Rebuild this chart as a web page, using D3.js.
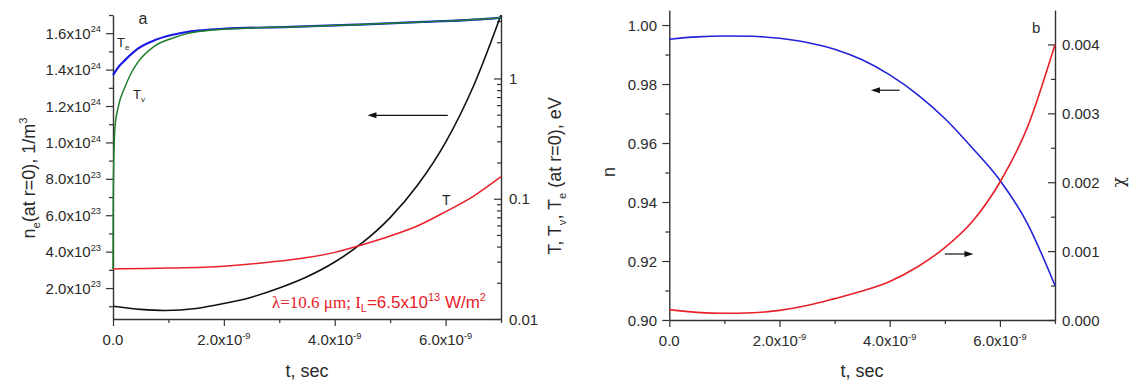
<!DOCTYPE html>
<html><head><meta charset="utf-8">
<script src="https://cdn.jsdelivr.net/npm/d3@7"></script>
<style>
body{margin:0;background:#fff}
svg{display:block;background:#fff}
text{font-family:"Liberation Sans",Arial,sans-serif;fill:#2a2a2a}
</style>
</head><body>
<svg id="c" width="1132" height="387"></svg>
<script>
// ---------- DATA (time in seconds) ----------
// Panel a: electron density n_e (1/m^3), left axis
const neTime = [0, 0.5e-9, 0.94e-9, 1.5e-9, 2.0e-9, 2.5e-9, 3.0e-9, 3.5e-9, 4.0e-9, 4.5e-9, 5.0e-9, 5.5e-9, 6.0e-9, 6.5e-9, 7.0e-9];
const neValues = [1.00e23, 0.83e23, 0.77e23, 0.88e23, 1.15e23, 1.50e23, 2.00e23, 2.62e23, 3.43e23, 4.49e23, 5.87e23, 7.67e23, 1.00e24, 1.307e24, 1.70e24];
// Panel a: gas temperature T (eV), right log axis
const gasTTime = [0, 1e-9, 2e-9, 3e-9, 3.5e-9, 4e-9, 4.5e-9, 5e-9, 5.5e-9, 6e-9, 6.5e-9, 7e-9];
const gasT = [0.0261, 0.0265, 0.0275, 0.0303, 0.0324, 0.0358, 0.0415, 0.0490, 0.0596, 0.0780, 0.1047, 0.1524];
// Panel a: electron temperature Te (eV)
const teTime = [0, 0.1e-9, 0.216e-9, 0.456e-9, 0.757e-9, 1.058e-9, 1.357e-9, 1.658e-9, 1.987e-9, 3.19e-9, 4.39e-9, 5.59e-9, 6.91e-9, 7.0e-9];
const teValues = [1.065, 1.25, 1.42, 1.778, 2.085, 2.296, 2.446, 2.527, 2.59, 2.68, 2.80, 2.95, 3.18, 3.21];
// Panel a: vibrational temperature Tv (eV)
const tvTime = [0, 0.005e-9, 0.015e-9, 0.036e-9, 0.095e-9, 0.216e-9, 0.337e-9, 0.456e-9, 0.757e-9, 1.058e-9, 1.357e-9, 1.658e-9, 1.987e-9, 2.5e-9, 3.19e-9, 4.39e-9, 5.59e-9, 6.91e-9, 7.0e-9];
const tvValues = [0.026, 0.10, 0.21, 0.395, 0.58, 0.85, 1.126, 1.38, 1.87, 2.15, 2.37, 2.49, 2.57, 2.63, 2.68, 2.80, 2.95, 3.18, 3.21];
// Panel b: refractive index n (left) and chi (right)
const bTime = [0, 0.5e-9, 1.0e-9, 1.5e-9, 2.0e-9, 2.5e-9, 3.0e-9, 3.5e-9, 4.0e-9, 4.5e-9, 5.0e-9, 5.5e-9, 6.0e-9, 6.5e-9, 7.0e-9];
const nValues = [0.9952, 0.9960, 0.9963, 0.9962, 0.9955, 0.9941, 0.9918, 0.9882, 0.9831, 0.9765, 0.9683, 0.9583, 0.9474, 0.9327, 0.9117];
const chiValues = [0.000150, 0.000110, 0.000097, 0.000105, 0.000140, 0.000210, 0.000310, 0.000420, 0.000560, 0.000770, 0.00105, 0.00143, 0.00200, 0.00280, 0.00400];

// ---------- TICKS ----------
const xTicks = [0, 2e-9, 4e-9, 6e-9];
const xTickLabels = [["0.0", ""], ["2.0x10", "-9"], ["4.0x10", "-9"], ["6.0x10", "-9"]];
const xMinor = [1e-9, 3e-9, 5e-9, 7e-9];
const neTicks = [2e23, 4e23, 6e23, 8e23, 1.0e24, 1.2e24, 1.4e24, 1.6e24];
const neTickLabels = [["2.0x10","23"],["4.0x10","23"],["6.0x10","23"],["8.0x10","23"],["1.0x10","24"],["1.2x10","24"],["1.4x10","24"],["1.6x10","24"]];
const neMinor = [1e23, 3e23, 5e23, 7e23, 9e23, 1.1e24, 1.3e24, 1.5e24, 1.7e24];
const tTicks = [0.01, 0.1, 1];
const tTickLabels = ["0.01", "0.1", "1"];
const tMinor = [0.02,0.03,0.04,0.05,0.06,0.07,0.08,0.09,0.2,0.3,0.4,0.5,0.6,0.7,0.8,0.9,2,3];
const nTicks = [0.90, 0.92, 0.94, 0.96, 0.98, 1.00];
const nMinor = [0.91, 0.93, 0.95, 0.97, 0.99];
const chiTicks = [0, 0.001, 0.002, 0.003, 0.004];
const chiMinor = [0.0005, 0.0015, 0.0025, 0.0035];

// ---------- SCALES ----------
const xA = d3.scaleLinear([0, 7e-9], [113, 501]);
const yNe = d3.scaleLinear([3e22, 1.7e24], [319, 15]);
const yT = d3.scaleLog([0.01, 3.37], [319, 15]);
const xB = d3.scaleLinear([0, 7e-9], [669.3, 1055]);
const yN = d3.scaleLinear([0.9, 1.0051], [320, 10]);
const yChi = d3.scaleLinear([0, 0.0045], [320, 10]);

const svg = d3.select("#c");
const AX = "#333";
const FS = 15;

// rich text: parts = [[text, kind]] kind: "", "sup", "sub"
function rich(sel, parts, fs, small) {
  const sm = small || fs * 0.62;
  let pending = 0;
  parts.forEach(([t, k]) => {
    if (!t) return;
    const sp = sel.append("tspan").text(t);
    let shift = 0;
    if (k === "sup") { sp.attr("font-size", sm); shift = -fs * 0.42; }
    else if (k === "sub") { sp.attr("font-size", sm); shift = fs * 0.25; }
    const dy = pending + shift;
    if (dy !== 0) sp.attr("dy", dy);
    pending = -shift;
  });
}

function drawAxis(axisFn, scale, major, minor, transform, size) {
  const g = svg.append("g").attr("transform", transform);
  g.call(axisFn(scale).tickValues(major).tickSize(size).tickSizeOuter(0).tickFormat(""));
  const gm = svg.append("g").attr("transform", transform);
  gm.call(axisFn(scale).tickValues(minor).tickSize(size > 0 ? 4 : -4).tickSizeOuter(0).tickFormat(""));
  gm.select(".domain").remove();
  [g, gm].forEach(s => {
    s.selectAll("text").remove();
    s.selectAll("line").attr("stroke", AX).attr("stroke-width", 1.2);
    s.selectAll(".domain").attr("stroke", AX).attr("stroke-width", 1.4);
  });
}

// ----- Panel a axes -----
drawAxis(d3.axisBottom, xA, xTicks, xMinor, "translate(0,319)", 7);
drawAxis(d3.axisLeft, yNe, neTicks, neMinor, "translate(113,0)", 7);
drawAxis(d3.axisRight, yT, tTicks, tMinor, "translate(501,0)", -7);
// ----- Panel b axes -----
drawAxis(d3.axisBottom, xB, xTicks, xMinor, "translate(0,320)", 7);
drawAxis(d3.axisLeft, yN, nTicks, nMinor, "translate(669.3,0)", 7);
drawAxis(d3.axisRight, yChi, chiTicks, chiMinor, "translate(1055,0)", -7);

// tick labels
xTicks.forEach((v, i) => {
  rich(svg.append("text").attr("x", xA(v)).attr("y", 345).attr("text-anchor", "middle").attr("font-size", FS),
       [[xTickLabels[i][0], ""], [xTickLabels[i][1], "sup"]], FS);
  rich(svg.append("text").attr("x", xB(v)).attr("y", 346).attr("text-anchor", "middle").attr("font-size", FS),
       [[xTickLabels[i][0], ""], [xTickLabels[i][1], "sup"]], FS);
});
neTicks.forEach((v, i) => {
  rich(svg.append("text").attr("x", 101).attr("y", yNe(v) + 5.5).attr("text-anchor", "end").attr("font-size", FS),
       [[neTickLabels[i][0], ""], [neTickLabels[i][1], "sup"]], FS);
});
tTicks.forEach((v, i) => {
  svg.append("text").attr("x", 509).attr("y", yT(v) + 5.5).attr("font-size", FS).text(tTickLabels[i]);
});
nTicks.forEach(v => {
  svg.append("text").attr("x", 657).attr("y", yN(v) + 5.5).attr("text-anchor", "end").attr("font-size", FS).text(v.toFixed(2));
});
chiTicks.forEach(v => {
  svg.append("text").attr("x", 1062).attr("y", yChi(v) + 5.5).attr("font-size", FS).text(v.toFixed(3));
});

// axis titles
const TF = 18;
svg.append("text").attr("x", 307).attr("y", 377).attr("text-anchor", "middle").attr("font-size", TF).text("t, sec");
svg.append("text").attr("x", 862).attr("y", 377).attr("text-anchor", "middle").attr("font-size", TF).text("t, sec");
rich(svg.append("text").attr("transform", "translate(35,178) rotate(-90)").attr("text-anchor", "middle").attr("font-size", TF),
     [["n", ""], ["e", "sub"], ["(at r=0), 1/m", ""], ["3", "sup"]], TF);
rich(svg.append("text").attr("transform", "translate(561,176) rotate(-90)").attr("text-anchor", "middle").attr("font-size", TF),
     [["T, T", ""], ["v", "sub"], [", T", ""], ["e", "sub"], [" (at r=0), eV", ""]], TF);
svg.append("text").attr("transform", "translate(615,172) rotate(-90)").attr("text-anchor", "middle").attr("font-size", TF).text("n");
svg.append("text").attr("transform", "translate(1124,182) rotate(-90)").attr("text-anchor", "middle").attr("font-size", 17)
  .style("font-family", "'DejaVu Serif','Liberation Serif',serif").text("\u03c7");

// ---------- CURVES ----------
function curve(xs, ys, xScale, yScale, color, w) {
  const pts = xs.map((t, i) => [xScale(t), yScale(ys[i])]);
  svg.append("path").attr("d", d3.line().curve(d3.curveMonotoneX)(pts))
    .attr("fill", "none").attr("stroke", color).attr("stroke-width", w);
}
curve(neTime, neValues, xA, yNe, "#111", 1.6);
curve(gasTTime, gasT, xA, yT, "#e8202a", 1.5);
curve(teTime, teValues, xA, yT, "#1a1ae6", 2.2);
curve(tvTime, tvValues, xA, yT, "#1f7f2a", 1.5);
curve(bTime, nValues, xB, yN, "#2323d8", 1.6);
curve(bTime, chiValues, xB, yChi, "#e8202a", 1.6);

// ---------- ANNOTATIONS ----------
function arrow(x1, y, x2) {
  const dir = Math.sign(x2 - x1);
  svg.append("line").attr("x1", x1).attr("y1", y).attr("x2", x2 - dir*6).attr("y2", y).attr("stroke", "#111").attr("stroke-width", 1.2);
  svg.append("path").attr("d", `M${x2},${y} L${x2 - dir*9},${y - 3} L${x2 - dir*9},${y + 3} Z`).attr("fill", "#111");
}
arrow(xA(6.04e-9), yNe(1.149e24), xA(4.59e-9));
arrow(xB(4.18e-9), yN(0.9779), xB(3.66e-9));
arrow(xB(5.0e-9), yChi(0.000958), xB(5.52e-9));

svg.append("text").attr("x", xA(0.54e-9)).attr("y", 24).attr("text-anchor", "middle").attr("font-size", 16).text("a");
svg.append("text").attr("x", xB(6.66e-9)).attr("y", 33).attr("text-anchor", "middle").attr("font-size", 15).text("b");
rich(svg.append("text").attr("x", 117).attr("y", 47).attr("font-size", 13), [["T", ""], ["e", "sub"]], 13);
rich(svg.append("text").attr("x", 133).attr("y", 99).attr("font-size", 13), [["T", ""], ["v", "sub"]], 13);
svg.append("text").attr("x", 442).attr("y", 205).attr("font-size", 14).text("T");

// laser parameters
const lt = svg.append("text").attr("x", 272).attr("y", 308).attr("font-size", 17).style("fill", "#e8202a");
lt.append("tspan").style("font-family", "'Liberation Serif','Times New Roman',serif").style("fill", "#e8202a").text("\u03bb=10.6 \u03bcm; I");
lt.append("tspan").attr("font-size", 11).attr("dy", 4).style("fill", "#e8202a").text("L");
lt.append("tspan").attr("dy", -4).style("fill", "#e8202a").text("=6.5x10");
lt.append("tspan").attr("font-size", 11).attr("dy", -7).style("fill", "#e8202a").text("13");
lt.append("tspan").attr("dy", 7).style("fill", "#e8202a").text(" W/m");
lt.append("tspan").attr("font-size", 11).attr("dy", -7).style("fill", "#e8202a").text("2");
</script>
</body></html>
